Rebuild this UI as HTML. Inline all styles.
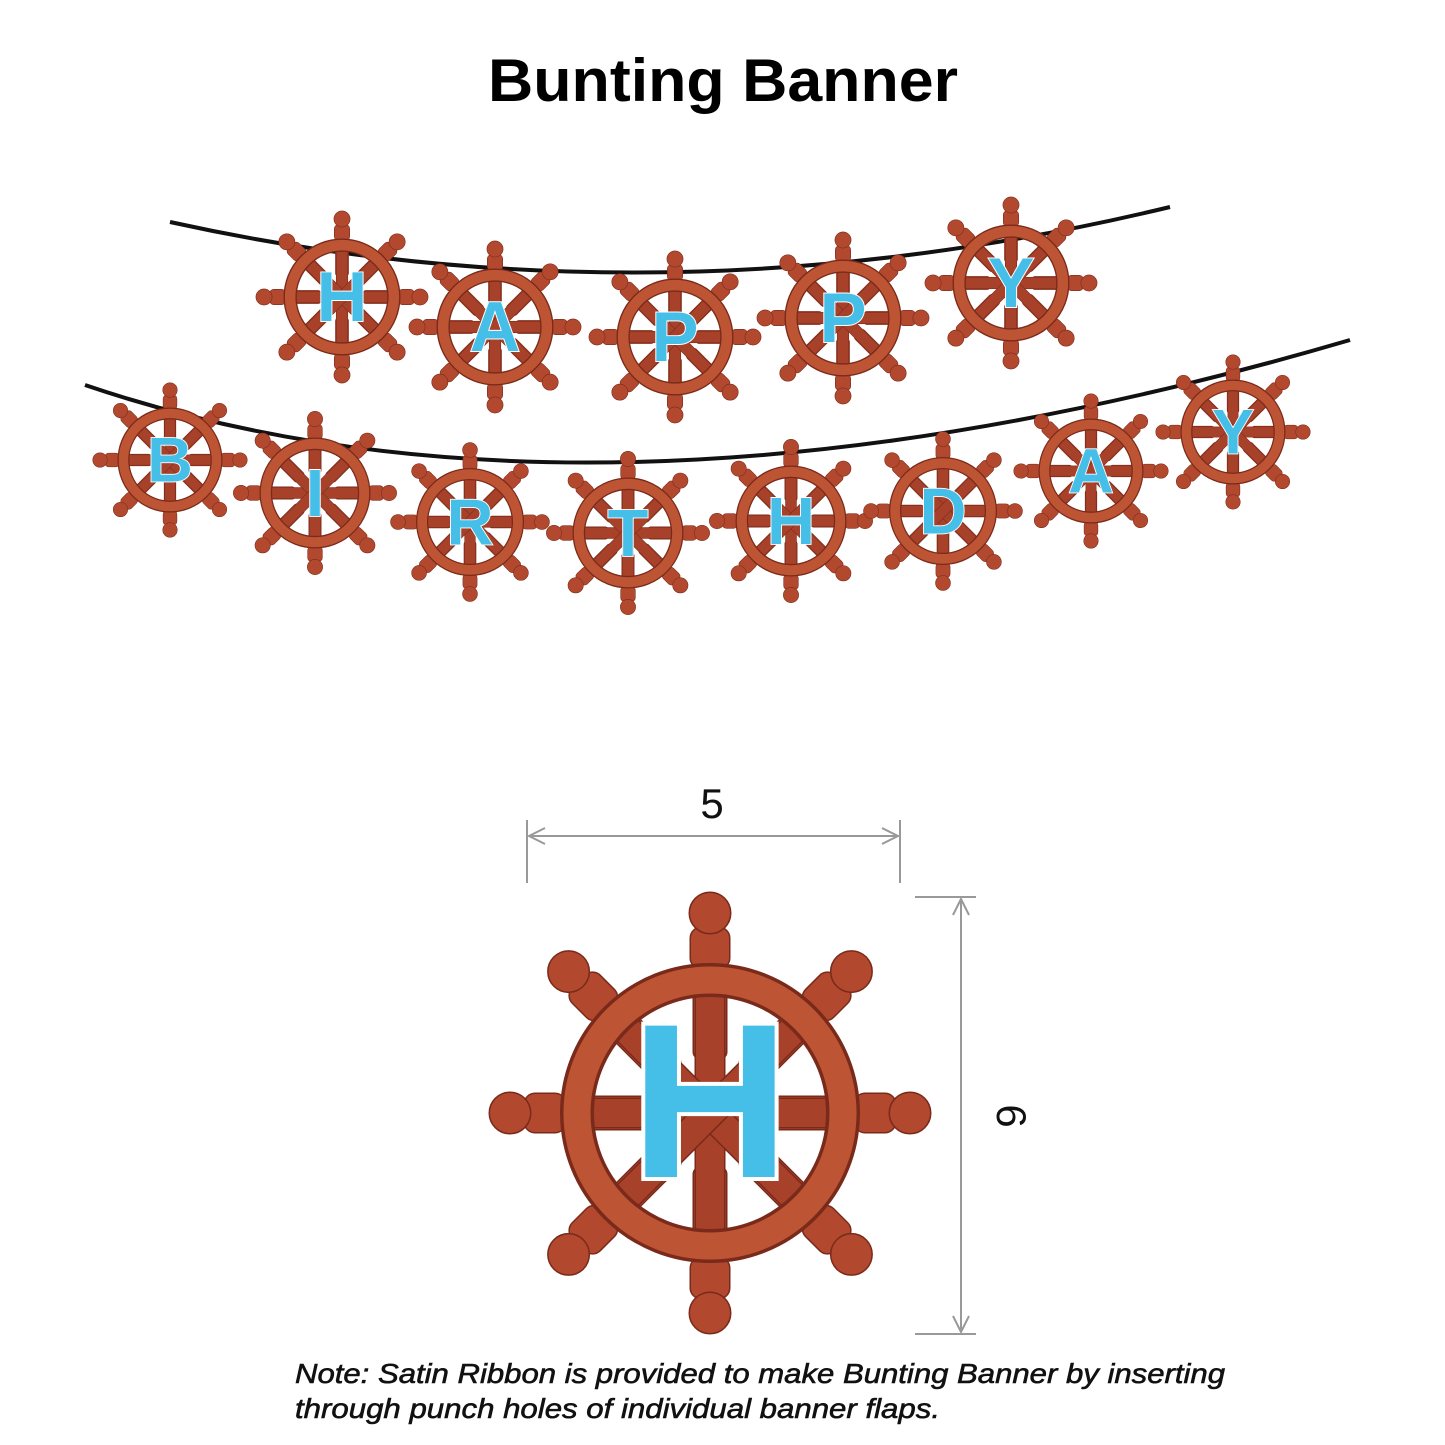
<!DOCTYPE html>
<html><head><meta charset="utf-8"><style>html,body{margin:0;padding:0;background:#fff}svg{display:block}</style></head>
<body>
<svg width="1445" height="1445" viewBox="0 0 1445 1445" xmlns="http://www.w3.org/2000/svg">
<defs>
<g id="w">
  <g fill="#b2492f" stroke="#7a2a1a" stroke-width="3">
    <g id="sp">
      <rect x="-16" y="-175" width="32" height="120" rx="6"/>
      <rect x="-19" y="-185" width="38" height="40" rx="10"/>
      <circle cx="0" cy="-200" r="20"/>
    </g>
    <use href="#sp" transform="rotate(45)"/>
    <use href="#sp" transform="rotate(90)"/>
    <use href="#sp" transform="rotate(135)"/>
    <use href="#sp" transform="rotate(180)"/>
    <use href="#sp" transform="rotate(225)"/>
    <use href="#sp" transform="rotate(270)"/>
    <use href="#sp" transform="rotate(315)"/>
    <rect x="-120" y="-14" width="240" height="28" fill="#a8412a"/>
    <rect x="-14" y="-120" width="28" height="240" fill="#a8412a"/>
    <rect x="-120" y="-14" width="240" height="28" fill="#a8412a" transform="rotate(45)"/>
    <rect x="-120" y="-14" width="240" height="28" fill="#a8412a" transform="rotate(-45)"/>
  </g>
  <circle r="133" fill="none" stroke="#7a2a1a" stroke-width="34"/>
  <circle r="133" fill="none" stroke="#bd5535" stroke-width="27"/>
</g>
</defs>

<text x="488" y="101" textLength="470" lengthAdjust="spacingAndGlyphs" font-family="Liberation Sans, sans-serif" font-weight="bold" font-size="60" fill="#000">Bunting Banner</text>

<path d="M170 222 Q 660 330 1170 207" fill="none" stroke="#111" stroke-width="4"/>
<path d="M85 385 Q 600 560 1350 340" fill="none" stroke="#111" stroke-width="4"/>

<g font-family="Liberation Sans, sans-serif" font-weight="bold" fill="#45bfe8" stroke="#fff" stroke-width="5" paint-order="stroke" text-anchor="middle">
<g transform="translate(342,297) scale(0.39)"><use href="#w"/><text y="62" font-size="180">H</text></g>
<g transform="translate(495,327) scale(0.39)"><use href="#w"/><text y="62" font-size="180">A</text></g>
<g transform="translate(675,337) scale(0.39)"><use href="#w"/><text y="62" font-size="180">P</text></g>
<g transform="translate(843,318) scale(0.39)"><use href="#w"/><text y="62" font-size="180">P</text></g>
<g transform="translate(1011,283) scale(0.39)"><use href="#w"/><text y="62" font-size="180">Y</text></g>

<g transform="translate(170,460) scale(0.35)"><use href="#w"/><text y="62" font-size="180">B</text></g>
<g transform="translate(315,493) scale(0.37)"><use href="#w"/><text y="62" font-size="180">I</text></g>
<g transform="translate(470,522) scale(0.36)"><use href="#w"/><text y="62" font-size="180">R</text></g>
<g transform="translate(628,533) scale(0.37)"><use href="#w"/><text y="62" font-size="180">T</text></g>
<g transform="translate(791,521) scale(0.37)"><use href="#w"/><text y="62" font-size="180">H</text></g>
<g transform="translate(943,511) scale(0.36)"><use href="#w"/><text y="62" font-size="180">D</text></g>
<g transform="translate(1091,471) scale(0.35)"><use href="#w"/><text y="62" font-size="180">A</text></g>
<g transform="translate(1233,432) scale(0.35)"><use href="#w"/><text y="62" font-size="180">Y</text></g>

<g transform="translate(710,1113)"><use href="#w"/><text y="64" font-size="220" stroke-width="8">H</text></g>
</g>

<g stroke="#999" stroke-width="2" fill="none">
  <line x1="527" y1="820" x2="527" y2="883"/>
  <line x1="900" y1="820" x2="900" y2="883"/>
  <line x1="529" y1="836" x2="898" y2="836"/>
  <path d="M545 828 L529 836 L545 844"/>
  <path d="M882 828 L898 836 L882 844"/>
  <line x1="915" y1="897" x2="976" y2="897"/>
  <line x1="915" y1="1334" x2="976" y2="1334"/>
  <line x1="961" y1="899" x2="961" y2="1332"/>
  <path d="M953 915 L961 899 L969 915"/>
  <path d="M953 1316 L961 1332 L969 1316"/>
</g>
<text x="712" y="818" text-anchor="middle" font-family="Liberation Sans, sans-serif" font-size="42" fill="#111">5</text>
<text transform="translate(997,1116) rotate(90)" text-anchor="middle" font-family="Liberation Sans, sans-serif" font-size="42" fill="#111">6</text>

<g font-family="Liberation Sans, sans-serif" font-style="italic" font-size="28" fill="#111" stroke="#111" stroke-width="0.6">
<text x="295" y="1383" textLength="930" lengthAdjust="spacingAndGlyphs">Note: Satin Ribbon is provided to make Bunting Banner by inserting</text>
<text x="295" y="1418" textLength="645" lengthAdjust="spacingAndGlyphs">through punch holes of individual banner flaps.</text>
</g>
</svg>
</body></html>
